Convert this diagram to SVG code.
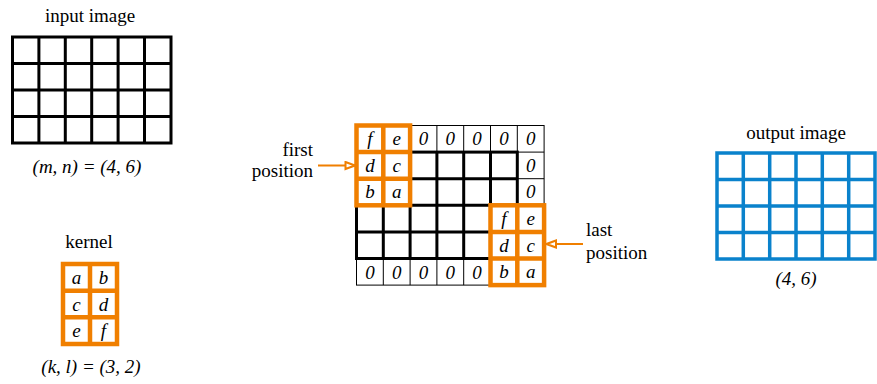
<svg xmlns="http://www.w3.org/2000/svg" width="877" height="384" viewBox="0 0 877 384">
<style>
text{font-family:"Liberation Serif",Tinos,"Times New Roman",Times,"Nimbus Roman","DejaVu Serif",serif;font-size:19px;fill:#000;text-anchor:middle}
.it{font-style:italic}
.thick{fill:none;stroke:#000;stroke-width:3}
.thin{fill:none;stroke:#000;stroke-width:1}
.org{fill:none;stroke:#f07f00;stroke-width:4.5}
.blue{fill:none;stroke:#0a82cc;stroke-width:3.5}
.conn{fill:none;stroke:#f07f00;stroke-width:2}
</style>
<defs>
<marker id="hollow" markerUnits="userSpaceOnUse" markerWidth="12" markerHeight="10" viewBox="0 0 12 10" refX="11" refY="5" orient="auto">
<path d="M1.5,1.5 L11,5 L1.5,8.5 Z" fill="#fff" stroke="#f07f00" stroke-width="2"/>
</marker>
</defs>
<rect width="877" height="384" fill="#fff"/>
<g id="input-image">
<text x="90" y="22">input image</text>
<rect class="thick" x="12.5" y="37" width="158.5" height="106"/>
<path class="thick" d="M38.9,37V143M65.3,37V143M91.7,37V143M118.1,37V143M144.5,37V143M12.5,63.5H171M12.5,90H171M12.5,116.5H171"/>
<text class="it" x="87" y="173">(m, n) = (4, 6)</text>
</g>

<g id="kernel">
<text x="89" y="248">kernel</text>
<rect x="63" y="264" width="54" height="80" fill="#fff"/>
<rect class="org" x="63" y="264" width="54" height="80"/>
<path class="org" d="M90,264V344M63,290.7H117M63,317.3H117"/>
<text class="it" x="76.5" y="284">a</text><text class="it" x="103.5" y="284">b</text>
<text class="it" x="76.5" y="310.5">c</text><text class="it" x="103.5" y="310.5">d</text>
<text class="it" x="76.5" y="337">e</text><text class="it" x="103.5" y="337">f</text>
<text class="it" x="91" y="373">(k, l) = (3, 2)</text>
</g>

<g id="padded-grid">
<rect class="thin" x="356.5" y="125.5" width="187.6" height="159.6"/>
<path class="thin" d="M356.5,152.1H544.1M356.5,258.5H544.1M517.3,125.5V285.1M383.3,125.5V152.1M410.1,125.5V152.1M436.9,125.5V152.1M463.7,125.5V152.1M490.5,125.5V152.1M383.3,258.5V285.1M410.1,258.5V285.1M436.9,258.5V285.1M463.7,258.5V285.1M490.5,258.5V285.1M517.3,178.7H544.1M517.3,205.3H544.1M517.3,231.9H544.1"/>
<rect class="thick" x="356.5" y="152.1" width="160.8" height="106.4"/>
<path class="thick" d="M383.3,152.1V258.5M410.1,152.1V258.5M436.9,152.1V258.5M463.7,152.1V258.5M490.5,152.1V258.5M356.5,178.7H517.3M356.5,205.3H517.3M356.5,231.9H517.3"/>
<text class="it" x="423.5" y="145">0</text><text class="it" x="450.3" y="145">0</text><text class="it" x="477.1" y="145">0</text><text class="it" x="503.9" y="145">0</text><text class="it" x="530.7" y="145">0</text>
<text class="it" x="530.7" y="171.6">0</text><text class="it" x="530.7" y="198.2">0</text>
<text class="it" x="369.9" y="278.5">0</text><text class="it" x="396.7" y="278.5">0</text><text class="it" x="423.5" y="278.5">0</text><text class="it" x="450.3" y="278.5">0</text><text class="it" x="477.1" y="278.5">0</text>
</g>

<g id="first-position">
<rect x="356.5" y="125.5" width="53.6" height="79.8" fill="#fff"/>
<rect class="org" x="356.5" y="125.5" width="53.6" height="79.8"/>
<path class="org" d="M383.3,125.5V205.3M356.5,152.1H410.1M356.5,178.7H410.1"/>
<text class="it" x="369.9" y="145">f</text><text class="it" x="396.7" y="145">e</text>
<text class="it" x="369.9" y="171.6">d</text><text class="it" x="396.7" y="171.6">c</text>
<text class="it" x="369.9" y="198.2">b</text><text class="it" x="396.7" y="198.2">a</text>
<text x="313" y="156" style="text-anchor:end">first</text>
<text x="313" y="177" style="text-anchor:end">position</text>
</g>

<g id="last-position">
<rect x="490.5" y="205.3" width="53.6" height="79.8" fill="#fff"/>
<rect class="org" x="490.5" y="205.3" width="53.6" height="79.8"/>
<path class="org" d="M517.3,205.3V285.1M490.5,231.9H544.1M490.5,258.5H544.1"/>
<text class="it" x="503.9" y="225">f</text><text class="it" x="530.7" y="225">e</text>
<text class="it" x="503.9" y="251.6">d</text><text class="it" x="530.7" y="251.6">c</text>
<text class="it" x="503.9" y="278.2">b</text><text class="it" x="530.7" y="278.2">a</text>
<text x="586" y="236" style="text-anchor:start">last</text>
<text x="586" y="259" style="text-anchor:start">position</text>
</g>

<g id="output-image">
<text x="796" y="139">output image</text>
<rect class="blue" x="717" y="153" width="158" height="106"/>
<path class="blue" d="M743.3,153V259M769.7,153V259M796,153V259M822.3,153V259M848.7,153V259M717,179.5H875M717,206H875M717,232.5H875"/>
<text class="it" x="796" y="285">(4, 6)</text>
</g>

<g id="connectors">
<path class="conn" d="M318,165.5H355" marker-end="url(#hollow)"/>
<path class="conn" d="M583,244H546.5" marker-end="url(#hollow)"/>
</g>
</svg>
